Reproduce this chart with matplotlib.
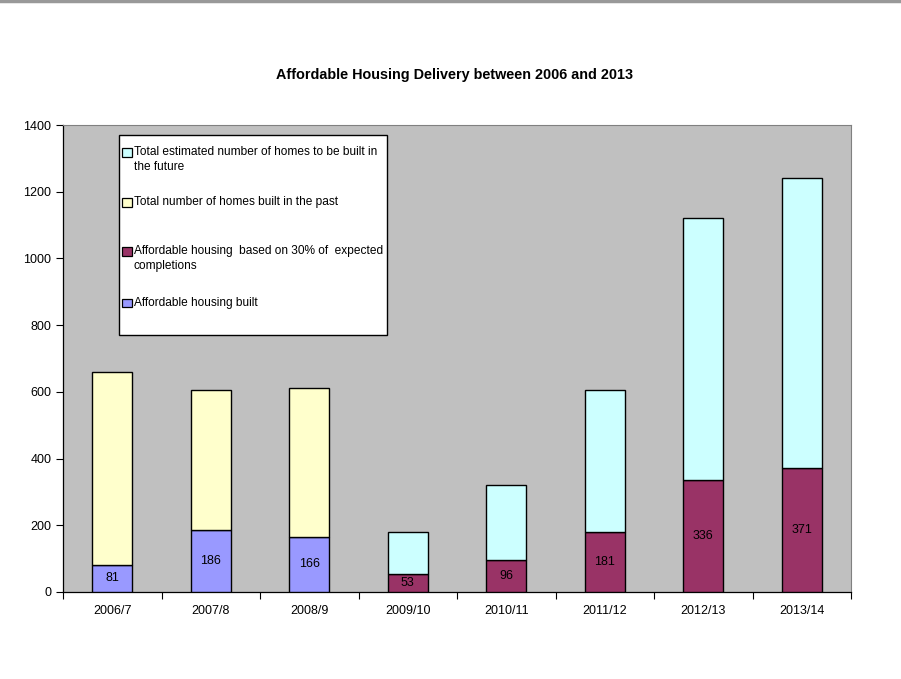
import matplotlib
matplotlib.use("Agg")
import matplotlib.pyplot as plt
from matplotlib.patches import Rectangle
from matplotlib.lines import Line2D
import numpy as np

plt.rcParams['font.family'] = ['Liberation Sans', 'DejaVu Sans']

# Financial years
years = ["2006/7", "2007/8", "2008/9", "2009/10", "2010/11", "2011/12", "2012/13", "2013/14"]

# Affordable homes actually built (past years)
affordable_built = [81, 186, 166, 0, 0, 0, 0, 0]
# Affordable homes expected at 30% of completions (future years)
affordable_expected = [0, 0, 0, 53, 96, 181, 336, 371]
# Remaining homes built in the past (on top of affordable)
past_other = [579, 419, 445, 0, 0, 0, 0, 0]
# Remaining homes estimated to be built in the future
future_other = [0, 0, 0, 127, 226, 424, 786, 869]

legend_labels = [
    "Total estimated number of homes to be built in\nthe future",
    "Total number of homes built in the past",
    "Affordable housing  based on 30% of  expected\ncompletions",
    "Affordable housing built",
]

c_built = "#9999FF"
c_expected = "#993366"
c_past = "#FFFFCC"
c_future = "#CCFFFF"

W, H = 901, 679
fig = plt.figure(figsize=(W / 100, H / 100), dpi=100)
fig.add_artist(Line2D([0, 1], [0.9985, 0.9985], color="#999999", lw=2.5,
                      transform=fig.transFigure))

ax = fig.add_axes([63 / W, 1 - 592 / H, (851 - 63) / W, (592 - 125) / H])
ax.set_facecolor("#C0C0C0")

x = np.arange(len(years))
w = 0.41
kw = dict(width=w, edgecolor="black", linewidth=1.0, zorder=3)

built = np.array(affordable_built)
expected = np.array(affordable_expected)
bottom_seg = built + expected

ax.bar(x, built, color=c_built, **kw)
ax.bar(x, expected, color=c_expected, **kw)
ax.bar(x, past_other, bottom=bottom_seg, color=c_past, **kw)
ax.bar(x, future_other, bottom=bottom_seg, color=c_future, **kw)

# segments with no value carry no outline
for p in ax.patches:
    if p.get_height() == 0:
        p.set_visible(False)

for xi, v in zip(x, bottom_seg):
    ax.text(xi, v / 2, str(v), ha="center", va="center", fontsize=9,
            color="black", zorder=4)

ax.set_xlim(-0.5, len(years) - 0.5)
ax.set_ylim(0, 1400)
ax.set_yticks(range(0, 1401, 200))
ax.set_xticks(x)
ax.set_xticklabels(years)
ax.set_xticks(np.arange(-0.5, len(years), 1), minor=True)
ax.tick_params(axis="x", which="major", length=0, pad=9, labelsize=9)
ax.tick_params(axis="x", which="minor", length=5, direction="out", width=0.8)
ax.tick_params(axis="y", length=5, direction="out", width=0.8, labelsize=9)

for s in ["left", "bottom"]:
    ax.spines[s].set_linewidth(0.9)
for s in ["top", "right"]:
    ax.spines[s].set_color("#808080")
    ax.spines[s].set_linewidth(0.8)

fig.text(0.504, 1 - 75 / H, "Affordable Housing Delivery between 2006 and 2013",
         ha="center", va="center", fontsize=10.4, fontweight="bold")

# Legend box drawn in figure pixel coordinates
def fx(px):
    return px / W

def fy(py):
    return 1 - py / H

fig.add_artist(Rectangle((fx(119), fy(335)), fx(387) - fx(119), fy(135) - fy(335),
                         transform=fig.transFigure, facecolor="white",
                         edgecolor="black", linewidth=1.0, zorder=5))
legend_colors = [c_future, c_past, c_expected, c_built]
first_line_y = [152, 202, 251, 303]
line_gap = 15.0
for col, lab, y0 in zip(legend_colors, legend_labels, first_line_y):
    fig.add_artist(Rectangle((fx(122.5), fy(y0 + 4.5)), 9 / W, 9 / H,
                             transform=fig.transFigure, facecolor=col,
                             edgecolor="black", linewidth=0.9, zorder=6))
    nlines = lab.count("\n") + 1
    yc = y0 + (nlines - 1) * line_gap / 2
    fig.text(fx(134), fy(yc), lab, ha="left", va="center", fontsize=8.6,
             linespacing=1.4, zorder=7)

fig.savefig("out.png", dpi=100)
